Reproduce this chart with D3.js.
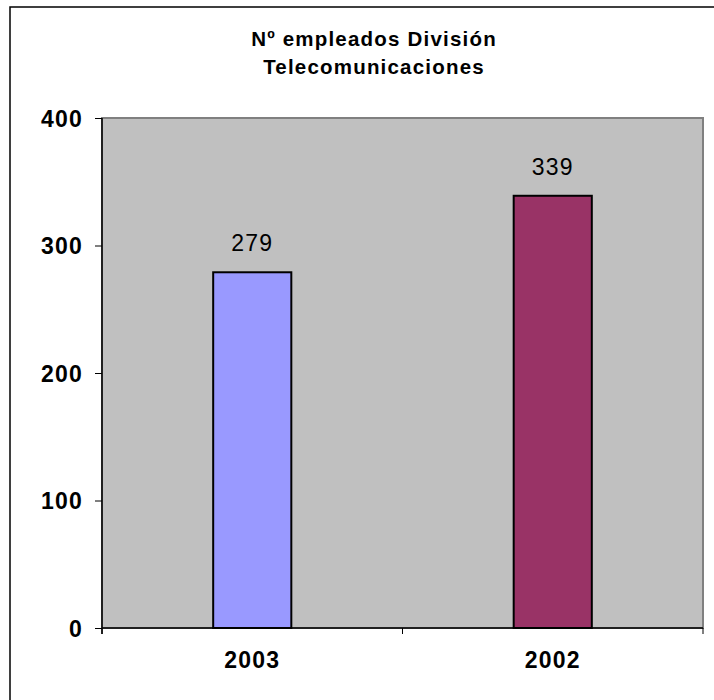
<!DOCTYPE html>
<html>
<head>
<meta charset="utf-8">
<script src="https://cdn.jsdelivr.net/npm/d3@7"></script>
<style>
  body { margin: 0; background: #fff; }
  text { font-family: Arial, "Liberation Sans", sans-serif; }
</style>
</head>
<body>
<svg></svg>
<script>
// chart data
const years = ["2003", "2002"];
const employees = [279, 339];
const barColors = ["#9999ff", "#993366"];
const yTicks = [0, 100, 200, 300, 400];
const titleLines = ["Nº empleados División", "Telecomunicaciones"];

const width = 714, height = 700;
const plot = {left: 102, top: 118, right: 703, bottom: 628};

const svg = d3.select("svg")
              .attr("width", width)
              .attr("height", height);

// outer chart border (runs off the right/bottom edge like the original)
svg.append("rect")
   .attr("x", 10).attr("y", 7)
   .attr("width", 730).attr("height", 720)
   .attr("fill", "#fff")
   .attr("stroke", "#000")
   .attr("stroke-width", 1.5);

const x = d3.scaleBand()
            .domain(years)
            .range([plot.left, plot.right])
            .padding(0);

const y = d3.scaleLinear()
            .domain([0, 400])
            .range([plot.bottom, plot.top]);

// plot area
svg.append("rect")
   .attr("x", plot.left).attr("y", plot.top)
   .attr("width", plot.right - plot.left)
   .attr("height", plot.bottom - plot.top)
   .attr("fill", "#c0c0c0")
   .attr("stroke", "#808080")
   .attr("stroke-width", 2);

// bars
const barW = x.bandwidth() * 0.26;
svg.append("g")
   .selectAll("rect")
   .data(years)
   .enter().append("rect")
   .attr("x", d => x(d) + (x.bandwidth() - barW) / 2)
   .attr("y", (d, i) => y(employees[i]))
   .attr("width", barW)
   .attr("height", (d, i) => y(0) - y(employees[i]))
   .attr("fill", (d, i) => barColors[i])
   .attr("stroke", "#000")
   .attr("stroke-width", 2);

// value labels
svg.append("g")
   .selectAll("text")
   .data(years)
   .enter().append("text")
   .attr("x", d => x(d) + x.bandwidth() / 2)
   .attr("y", (d, i) => y(employees[i]) - 21)
   .attr("text-anchor", "middle")
   .attr("font-size", 23)
   .attr("letter-spacing", 1.2)
   .attr("fill", "#000")
   .text((d, i) => employees[i]);

// y axis
const yAxis = svg.append("g")
   .attr("transform", "translate(" + plot.left + ",0)")
   .call(d3.axisLeft(y).tickValues(yTicks).tickSize(7).tickPadding(12));
yAxis.select(".domain").remove();
yAxis.selectAll("line").attr("stroke", "#000");
yAxis.selectAll("text")
     .attr("font-size", 23)
     .attr("font-weight", "bold")
     .attr("letter-spacing", 1.2)
     .attr("font-family", "Arial, 'Liberation Sans', sans-serif")
     .attr("fill", "#000")
     .attr("dy", "0.36em");
svg.append("line")
   .attr("x1", plot.left).attr("x2", plot.left)
   .attr("y1", plot.top).attr("y2", plot.bottom + 6)
   .attr("stroke", "#000").attr("stroke-width", 1.5);

// x axis line, category boundary ticks and labels
svg.append("line")
   .attr("x1", plot.left).attr("x2", plot.right)
   .attr("y1", plot.bottom).attr("y2", plot.bottom)
   .attr("stroke", "#000").attr("stroke-width", 1.5);

const bounds = years.map(d => x(d)).concat([x.range()[1]]);
svg.append("g")
   .selectAll("line")
   .data(bounds)
   .enter().append("line")
   .attr("x1", d => d).attr("x2", d => d)
   .attr("y1", plot.bottom).attr("y2", plot.bottom + 6)
   .attr("stroke", "#000");

svg.append("g")
   .selectAll("text")
   .data(years)
   .enter().append("text")
   .attr("x", d => x(d) + x.bandwidth() / 2)
   .attr("y", 668)
   .attr("text-anchor", "middle")
   .attr("font-size", 23)
   .attr("font-weight", "bold")
   .attr("letter-spacing", 1.2)
   .attr("fill", "#000")
   .text(d => d);

// title
svg.append("g")
   .selectAll("text")
   .data(titleLines)
   .enter().append("text")
   .attr("x", 374)
   .attr("y", (d, i) => 46 + i * 28)
   .attr("text-anchor", "middle")
   .attr("font-size", 20.5)
   .attr("font-weight", "bold")
   .attr("letter-spacing", 1.2)
   .attr("fill", "#000")
   .text(d => d);
</script>
</body>
</html>
